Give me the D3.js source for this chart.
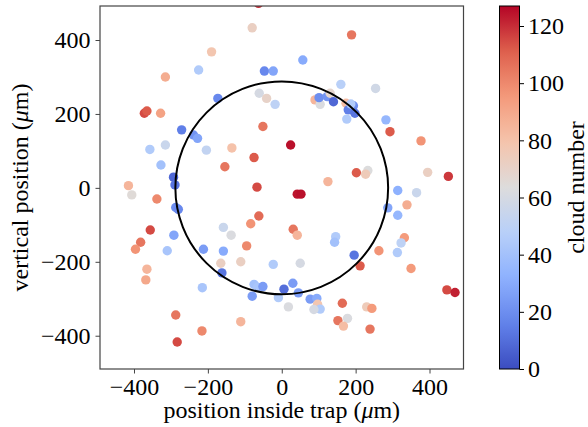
<!DOCTYPE html>
<html>
<head>
<meta charset="utf-8">
<script src="https://cdn.jsdelivr.net/npm/d3@7"></script>
<style>
  html, body { margin: 0; padding: 0; background: #fff; }
  svg { display: block; }
  text { font-family: "Liberation Serif", "DejaVu Serif", serif; fill: #000; }
</style>
</head>
<body>
<svg id="chart" width="588" height="427"></svg>
<script>
// Cloud positions inside the trap (micrometres) and their cloud number
const posX = [
  -190, -225, -315, -372, -365, -328, -173, -271,
  -63, -80, 189, 57, -47, -23, -61, -41, -18, 90, 104, 101, 123, 131, 140, 160, 174, 180, 176, -51,
  254, 194, 198, 187, 282, 293,
  -239, -228, -357, -315, -204, -327, -293, -289, -415, -406, -338, -287, -280, -356, -292, -382, -396, -310, -212,
  -135, 24, -75, -154, 125, -67, 42, 52, -62, -84, -158, -137, 31, 42, 146, 143, -158, -95,
  377, 202, 233, 227, 395, 451, 314, 365, 339, 287, 314, 332, 323, 263, 313, 196,
  -365, -368, -165, -162, -215, -287, -216, -283,
  -111, -23, 50, -75, -66, -51, -80, 6, 30, -9, 45, 18, 77, 95, 97, 104, 87, -111, 164, 152, 178, 167,
  212, 350, 447, 469, 230, 244, 239
];
const posY = [
  368, 319, 300, 202, 208, 202, 242, 157,
  499, 433, 414, 346, 316, 316, 256, 242, 226, 238, 226, 244, 247, 256, 233, 280, 229, 211, 186, 166,
  269, 222, 202, 227, 184, 152,
  143, 134, 104, 116, 102, 62, 29, 8, 6, -19, -30, -53, -58, -114, -128, -147, -166, -170, -166,
  108, 116, 82, 57, 17, 2, -17, -17, -76, -97, -107, -128, -112, -128, -132, -147, -171, -157,
  127, 41, 47, 37, 42, 31, -7, -13, -46, -54, -74, -135, -149, -170, -175, -182,
  -220, -249, -204, -230, -270, -344, -387, -417,
  -200, -207, -204, -261, -269, -267, -293, -274, -258, -297, -284, -322, -301, -299, -315, -328, -329, -362, -312, -359, -353, -374,
  -211, -218, -276, -283, -322, -326, -382
];
const cloudNumber = [
  78, 45, 88, 115, 112, 92, 18, 15,
  120, 72, 105, 30, 18, 28, 60, 70, 50, 85, 62, 20, 22, 68, 8, 48, 82, 15, 45, 105,
  58, 20, 12, 45, 35, 112,
  22, 28, 45, 55, 52, 40, 8, 12, 85, 65, 100, 20, 18, 115, 28, 105, 97, 42, 25,
  80, 125, 112, 105, 85, 115, 124, 125, 108, 97, 55, 62, 105, 85, 45, 40, 30, 100,
  97, 112, 63, 75, 72, 118, 32, 55, 88, 28, 35, 95, 50, 97, 45, 12,
  85, 90, 72, 12, 42, 105, 100, 115,
  72, 45, 60, 40, 42, 25, 25, 10, 25, 45, 25, 62, 25, 30, 78, 45, 60, 85, 108, 105, 62, 82,
  112, 95, 115, 122, 75, 95, 105
];

const xTicks = [-400, -200, 0, 200, 400];
const yTicks = [-400, -200, 0, 200, 400];
const cbarTicks = [0, 20, 40, 60, 80, 100, 120];
const cloudRange = [0, 127];
const trapRadius = 288;

// Diverging blue-grey-red palette (coolwarm)
const coolwarmStops = ["#3b4cc0", "#6282ea", "#8db0fe", "#b8d0f9", "#dddcdc",
                       "#f5c4ac", "#f49a7b", "#de604d", "#b40426"];
const coolwarm = d3.piecewise(d3.interpolateRgb, coolwarmStops);

const svg = d3.select("#chart");
const plot = { left: 100, right: 463.5, top: 6, bottom: 369 };

const x = d3.scaleLinear().domain([-492, 492]).range([plot.left, plot.right]);
const y = d3.scaleLinear().domain([-490, 492]).range([plot.bottom, plot.top]);
const color = d3.scaleSequential(coolwarm).domain(cloudRange);

svg.append("defs").append("clipPath").attr("id", "plotClip")
  .append("rect")
  .attr("x", plot.left).attr("y", plot.top)
  .attr("width", plot.right - plot.left).attr("height", plot.bottom - plot.top);

const points = d3.range(posX.length).map(i => ({ x: posX[i], y: posY[i], n: cloudNumber[i] }));

const inner = svg.append("g").attr("clip-path", "url(#plotClip)");
inner.selectAll("circle.cloud")
  .data(points)
  .join("circle")
  .attr("class", "cloud")
  .attr("cx", d => x(d.x))
  .attr("cy", d => y(d.y))
  .attr("r", 4.7)
  .attr("fill", d => color(d.n));

// Trap boundary
inner.append("ellipse")
  .attr("cx", x(0)).attr("cy", y(0))
  .attr("rx", x(trapRadius) - x(0))
  .attr("ry", y(0) - y(trapRadius))
  .attr("fill", "none")
  .attr("stroke", "#000")
  .attr("stroke-width", 2);

// Axes
const fs = 24;
const fmt = d => d < 0 ? "\u2212" + Math.abs(d) : d;
const xAxis = svg.append("g")
  .attr("transform", `translate(0,${plot.bottom})`)
  .call(d3.axisBottom(x).tickValues(xTicks).tickSize(4.5).tickPadding(4).tickFormat(fmt));
const yAxis = svg.append("g")
  .attr("transform", `translate(${plot.left},0)`)
  .call(d3.axisLeft(y).tickValues(yTicks).tickSize(4.5).tickPadding(5).tickFormat(fmt));
[xAxis, yAxis].forEach(g => {
  g.attr("font-family", null).attr("font-size", null);
  g.select(".domain").remove();
  g.selectAll(".tick line").attr("stroke", "#444").attr("stroke-width", 1);
  g.selectAll(".tick text").attr("font-size", fs).attr("fill", "#000");
});

// Frame
svg.append("rect")
  .attr("x", plot.left).attr("y", plot.top)
  .attr("width", plot.right - plot.left).attr("height", plot.bottom - plot.top)
  .attr("fill", "none").attr("stroke", "#444").attr("stroke-width", 1.2);

// Axis titles
const xt = svg.append("text")
  .attr("x", (plot.left + plot.right) / 2).attr("y", 418)
  .attr("text-anchor", "middle").attr("font-size", fs);
xt.append("tspan").text("position inside trap (");
xt.append("tspan").attr("font-style", "italic").text("\u03bc");
xt.append("tspan").text("m)");

const yt = svg.append("text")
  .attr("transform", `translate(28,${(plot.top + plot.bottom) / 2}) rotate(-90)`)
  .attr("text-anchor", "middle").attr("font-size", fs);
yt.append("tspan").text("vertical position (");
yt.append("tspan").attr("font-style", "italic").text("\u03bc");
yt.append("tspan").text("m)");

// Colorbar
const cb = { left: 499.5, width: 20, top: 6, bottom: 369 };
const grad = svg.select("defs").append("linearGradient")
  .attr("id", "cbarGrad").attr("x1", 0).attr("y1", 1).attr("x2", 0).attr("y2", 0);
d3.range(0, 1.0001, 0.02).forEach(t => {
  grad.append("stop").attr("offset", t).attr("stop-color", coolwarm(t));
});
svg.append("rect")
  .attr("x", cb.left).attr("y", cb.top)
  .attr("width", cb.width).attr("height", cb.bottom - cb.top)
  .attr("fill", "url(#cbarGrad)")
  .attr("stroke", "#000").attr("stroke-width", 1);

const cy = d3.scaleLinear().domain(cloudRange).range([cb.bottom, cb.top]);
const cAxis = svg.append("g")
  .attr("transform", `translate(${cb.left + cb.width},0)`)
  .call(d3.axisRight(cy).tickValues(cbarTicks).tickSize(4.5).tickPadding(4));
cAxis.attr("font-family", null).attr("font-size", null);
cAxis.select(".domain").remove();
cAxis.selectAll(".tick line").attr("stroke", "#000");
cAxis.selectAll(".tick text").attr("font-size", fs).attr("fill", "#000");

svg.append("text")
  .attr("transform", `translate(584,${(cb.top + cb.bottom) / 2}) rotate(-90)`)
  .attr("text-anchor", "middle").attr("font-size", fs)
  .text("cloud number");
</script>
</body>
</html>
